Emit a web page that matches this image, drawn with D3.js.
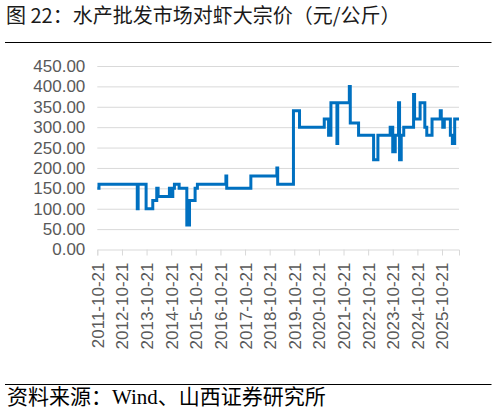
<!DOCTYPE html>
<html lang="zh">
<head>
    <meta charset="UTF-8">
    <title>对虾大宗价</title>
    <style>
        body { margin: 0; background: #fff; }
        text { font-family: "Liberation Sans", Arial, sans-serif; }
    </style>
    <script src="https://d3js.org/d3.v7.min.js"></script>
</head>
<body>
    <div id="chart"></div>
    <script>
        // tick labels on the x axis (one per year)
        const tickLabels = ["2011-10-21","2012-10-21","2013-10-21","2014-10-21","2015-10-21",
            "2016-10-21","2017-10-21","2018-10-21","2019-10-21","2020-10-21",
            "2021-10-21","2022-10-21","2023-10-21","2024-10-21","2025-10-21"]
        const yTicks = [0, 50, 100, 150, 200, 250, 300, 350, 400, 450]

        // price change points (元/公斤), held until the next date
        const changeDates = ["2011-10-21","2011-11-15","2013-06-05","2013-06-18","2013-10-14",
            "2014-01-21","2014-03-21","2014-04-10","2014-09-25","2014-10-20","2014-11-14",
            "2014-12-08","2015-02-16","2015-06-10","2015-07-20","2015-10-11","2015-11-14",
            "2017-01-10","2017-01-22","2018-01-15","2019-02-05","2019-02-17","2019-10-09",
            "2020-01-07","2021-01-08","2021-03-13","2021-04-17","2021-07-15","2021-07-27",
            "2022-01-15","2022-01-29","2022-06-01","2023-01-10","2023-03-15","2023-09-13",
            "2023-10-21","2023-11-27","2024-01-15","2024-01-30","2024-02-24","2024-04-01",
            "2024-08-25","2024-09-09","2024-11-30","2025-02-08","2025-03-09","2025-05-26",
            "2025-09-25","2025-10-10","2025-11-01","2025-11-24","2026-02-22","2026-03-24",
            "2026-04-27","2026-06-30"]
        const prices = [150,160,100,160,100,
            120,150,130,150,130,150,
            160,150,60,120,150,160,
            180,150,180,200,160,340,
            300,320,280,360,260,360,
            400,310,280,220,280,300,
            240,280,360,220,280,300,
            380,320,360,300,280,320,
            340,320,300,320,280,260,
            320,320]

        const W = 496, H = 413
        const plot = {left: 97.3, right: 459, top: 66, bottom: 249.5}
        const lineColor = "#0070c0"
        const gridColor = "#d9d9d9"
        const labelColor = "#595959"

        const parse = d3.timeParse("%Y-%m-%d")
        const series = changeDates.map((d, i) => ({date: parse(d), value: prices[i]}))

        const svg = d3.select("#chart")
            .append("svg")
            .attr("width", W)
            .attr("height", H)

        //title and rule
        svg.append("text")
            .attr("x", 6)
            .attr("y", 23)
            .style("font-family", "'Noto Sans CJK SC', sans-serif")
            .style("font-size", "20px")
            .attr("fill", "#1a1a1a")
            .text("图 22：水产批发市场对虾大宗价（元/公斤）")
        svg.append("line")
            .attr("x1", 5).attr("x2", 491.5)
            .attr("y1", 42.5).attr("y2", 42.5)
            .attr("stroke", "#000").attr("stroke-width", 1)

        //scales
        const x = d3.scaleTime()
            .domain([series[0].date, series[series.length - 1].date])
            .range([plot.left, plot.right])
        const y = d3.scaleLinear()
            .domain([0, 450])
            .range([plot.bottom, plot.top])

        //y gridlines and labels
        const yAxis = svg.append("g")
            .attr("transform", `translate(${plot.left},0)`)
            .call(d3.axisLeft(y)
                .tickValues(yTicks)
                .tickSize(-(plot.right - plot.left))
                .tickPadding(12)
                .tickFormat(d3.format(".2f")))
        yAxis.select(".domain").remove()
        yAxis.selectAll(".tick line")
            .attr("stroke", gridColor)
            .attr("stroke-width", 1)
            .filter(d => d === 0).remove()
        yAxis.selectAll(".tick text")
            .attr("fill", labelColor)
            .style("font-size", "17px")
            .style("font-family", "'Liberation Sans', Arial, sans-serif")

        //x axis with yearly ticks
        const xAxis = svg.append("g")
            .attr("transform", `translate(0,${plot.bottom})`)
            .call(d3.axisBottom(x)
                .tickValues(tickLabels.map(parse))
                .tickSizeOuter(0)
                .tickSize(6)
                .tickFormat(d3.timeFormat("%Y-%m-%d")))
        xAxis.select(".domain")
            .attr("stroke", gridColor)
        xAxis.selectAll(".tick line").attr("stroke", gridColor)
        xAxis.selectAll(".tick text")
            .attr("fill", labelColor)
            .style("font-size", "17px")
            .style("font-family", "'Liberation Sans', Arial, sans-serif")
            .attr("text-anchor", "end")
            .attr("transform", "rotate(-90)")
            .attr("x", -13)
            .attr("y", 0)
            .attr("dy", "0.35em")

        //the price line
        const line = d3.line()
            .curve(d3.curveStepAfter)
            .x(d => x(d.date))
            .y(d => y(d.value))
        svg.append("path")
            .datum(series)
            .attr("d", line)
            .attr("fill", "none")
            .attr("stroke", lineColor)
            .attr("stroke-width", 3)
            .attr("stroke-linejoin", "miter")

        //source footer
        svg.append("line")
            .attr("x1", 5).attr("x2", 491.5)
            .attr("y1", 384.5).attr("y2", 384.5)
            .attr("stroke", "#000").attr("stroke-width", 1)
        const foot = svg.append("text")
            .attr("x", 7)
            .attr("y", 404)
            .style("font-size", "21px")
            .attr("fill", "#000")
        foot.append("tspan").style("font-family", "'Noto Sans CJK SC', serif").text("资料来源：")
        foot.append("tspan").style("font-family", "'Liberation Serif', serif").text("Wind")
        foot.append("tspan").style("font-family", "'Noto Sans CJK SC', serif").text("、山西证券研究所")
    </script>
</body>
</html>
